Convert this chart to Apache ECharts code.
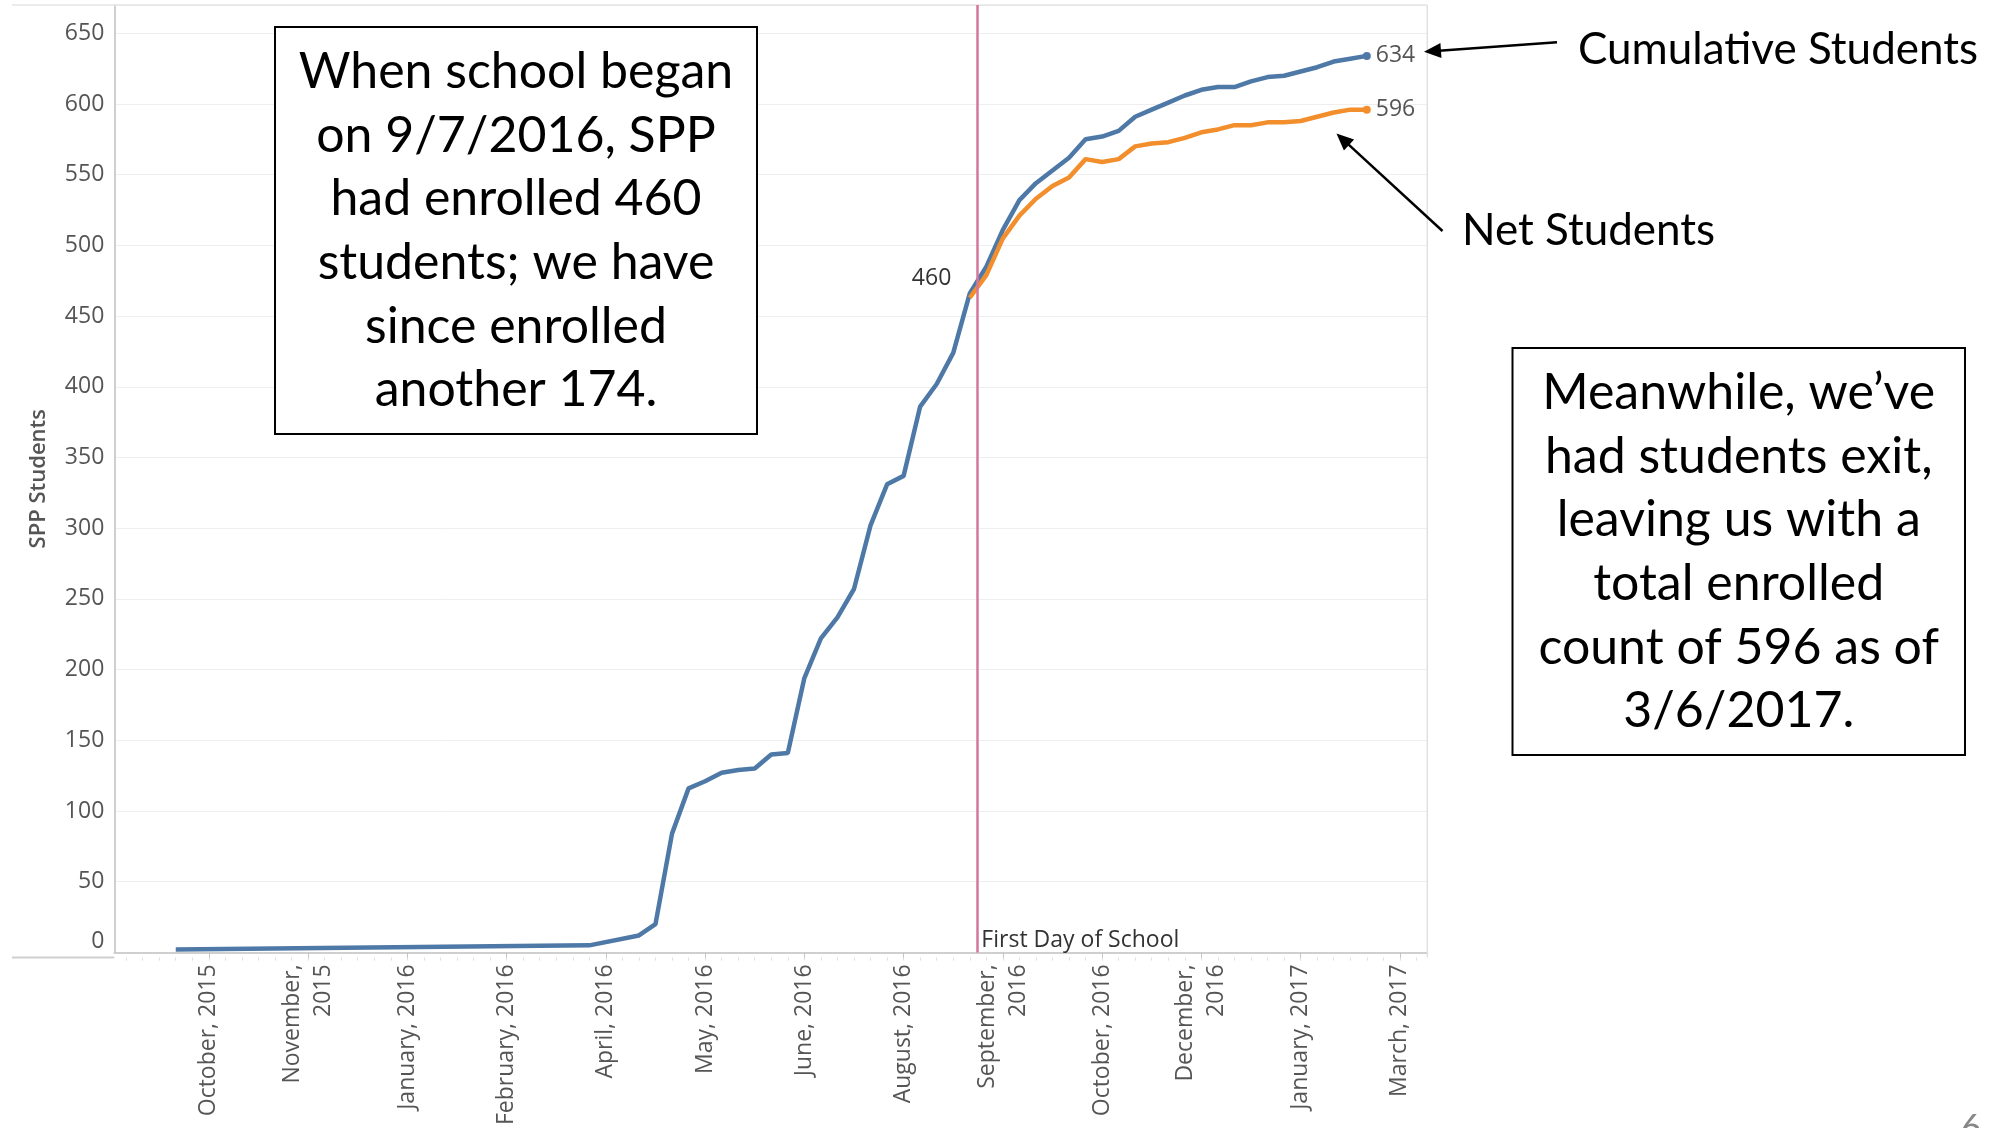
<!DOCTYPE html>
<html>
<head>
<meta charset="utf-8">
<script src="https://cdn.jsdelivr.net/npm/echarts@6/dist/echarts.min.js"></script>
<style>
html,body{margin:0;padding:0;background:#ffffff;}
#chart{width:2014px;height:1128px;}
</style>
</head>
<body>
<div id="chart"></div>
<script>
// ---------------- data ----------------
const tickOrigin = '2015-10-18';   // first labelled tick (ticks every 6 weeks)
const tickStepDays = 42;
const tickLabels = ['October, 2015', 'November,\n2015', 'January, 2016', 'February, 2016',
  'April, 2016', 'May, 2016', 'June, 2016', 'August, 2016', 'September,\n2016',
  'October, 2016', 'December,\n2016', 'January, 2017', 'March, 2017'];

const cumDates = ['2015-10-04','2016-03-27','2016-04-17','2016-04-24','2016-05-01','2016-05-08',
  '2016-05-15','2016-05-22','2016-05-29','2016-06-05','2016-06-12','2016-06-19','2016-06-26',
  '2016-07-03','2016-07-10','2016-07-17','2016-07-24','2016-07-31','2016-08-07','2016-08-14',
  '2016-08-21','2016-08-28','2016-09-04','2016-09-11','2016-09-18','2016-09-25','2016-10-02',
  '2016-10-09','2016-10-16','2016-10-23','2016-10-30','2016-11-06','2016-11-13','2016-11-20',
  '2016-11-27','2016-12-04','2016-12-11','2016-12-18','2016-12-25','2017-01-01','2017-01-08',
  '2017-01-15','2017-01-22','2017-01-29','2017-02-05','2017-02-12','2017-02-19'];
const cumValues = [2,5,12,20,84,116,121,127,129,130,140,141,194,222,237,257,302,331,337,386,402,424,
  466,485,511,532,544,553,562,575,577,581,591,596,601,606,610,612,612,616,619,620,623,626,630,632,634];

const netDates = ['2016-09-04','2016-09-11','2016-09-18','2016-09-25','2016-10-02','2016-10-09',
  '2016-10-16','2016-10-23','2016-10-30','2016-11-06','2016-11-13','2016-11-20','2016-11-27',
  '2016-12-04','2016-12-11','2016-12-18','2016-12-25','2017-01-01','2017-01-08','2017-01-15',
  '2017-01-22','2017-01-29','2017-02-05','2017-02-12','2017-02-19'];
const netValues = [463,479,505,521,533,542,548,561,559,561,570,572,573,576,580,582,585,585,587,587,
  588,591,594,596,596];

const schoolStartDate = '2016-09-07';
const schoolStartCount = 460;
const schoolStartLabelDate = '2016-09-04';
const firstDayLabel = 'First Day of School';

const boxLeftLines = ['When school began','on 9/7/2016, SPP','had enrolled 460','students; we have','since enrolled','another 174.'];
const boxRightLines = ['Meanwhile, we\u2019ve','had students exit,','leaving us with a','total enrolled','count of 596 as of','3/6/2017.'];
const cumulativeName = 'Cumulative Students';
const netName = 'Net Students';
const yAxisTitle = 'SPP Students';

// ---------------- helpers ----------------
const DAY = 86400000;
function dayOf(s) {
  const a = s.split('-').map(Number), o = tickOrigin.split('-').map(Number);
  return (Date.UTC(a[0], a[1]-1, a[2]) - Date.UTC(o[0], o[1]-1, o[2])) / DAY;
}
const xMin = -40, xMax = 515.6;
const majorTicks = tickLabels.map((_, i) => i * tickStepDays);
const minorTicks = [];
for (let d = -35; d <= 511; d += 7) minorTicks.push(d);

const AXF = 'Open Sans';
const BLUE = '#4e79a7', ORANGE = '#f28e2b', PINK = '#d6759a';

function buildData(dates, values, opts) {
  return dates.map((d, i) => {
    const item = { value: [dayOf(d), values[i]], symbol: 'none' };
    if (i === dates.length - 1) {
      item.symbol = 'circle'; item.symbolSize = 8;
      item.label = { show: true, position: 'right', distance: 5, color: '#555',
        fontFamily: AXF, fontSize: 23, formatter: String(values[i]) };
    }
    if (opts && opts.labelDate === d) {
      item.symbol = 'circle'; item.symbolSize = 1;
      item.label = { show: true, position: 'left', distance: 5, offset: [-13, -15],
        color: '#333', fontFamily: AXF, fontSize: 23, formatter: String(opts.labelText) };
    }
    return item;
  });
}

function arrow(x1, y1, x2, y2) {
  const dx = x2 - x1, dy = y2 - y1, L = Math.hypot(dx, dy);
  const ux = dx / L, uy = dy / L, hl = 17, hw = 7.5;
  const bx = x2 - ux * hl, by = y2 - uy * hl;
  const nx = -uy, ny = ux;
  return [
    { type: 'line', z: 100, shape: { x1: x1, y1: y1, x2: bx + ux * 2, y2: by + uy * 2 },
      style: { stroke: '#000', lineWidth: 2.5 } },
    { type: 'polygon', z: 100, shape: { points: [[x2, y2], [bx + nx * hw, by + ny * hw], [bx - nx * hw, by - ny * hw]] },
      style: { fill: '#000' } }
  ];
}

// ---------------- chart ----------------
const chart = echarts.init(document.getElementById('chart'), null, { renderer: 'canvas' });
const gridTop = 5, gridBottomY = 957.5, gridLeft = 114.3, gridRightX = 1427.3;

const option = {
  animation: false,
  backgroundColor: '#ffffff',
  grid: { left: gridLeft, right: 2014 - gridRightX, top: gridTop, bottom: 1128 - gridBottomY, containLabel: false },
  xAxis: [
    {
      type: 'value', min: xMin, max: xMax,
      axisLine: { show: true, onZero: false, lineStyle: { color: '#cfcfcf', width: 2 } },
      axisTick: { show: true, customValues: majorTicks, length: 6, lineStyle: { color: '#c4c4c4', width: 1 } },
      axisLabel: {
        show: true, customValues: majorTicks, rotate: 90, margin: 12,
        fontFamily: AXF, fontSize: 23, lineHeight: 31, color: '#555',
        formatter: v => tickLabels[Math.round(v / tickStepDays)] || ''
      },
      splitLine: { show: false }
    },
    {
      type: 'value', min: xMin, max: xMax, position: 'top', offset: -(gridBottomY - gridTop),
      axisLine: { show: false, onZero: false },
      axisTick: { show: true, inside: true, customValues: minorTicks, length: 3, lineStyle: { color: '#dddddd', width: 1 } },
      axisLabel: { show: false },
      splitLine: { show: false }
    }
  ],
  yAxis: {
    type: 'value', min: 0, max: 670, interval: 50,
    name: yAxisTitle, nameLocation: 'middle', nameRotate: 90, nameGap: 65,
    nameTextStyle: { fontFamily: AXF, fontSize: 22, fontWeight: 600, color: '#555' },
    axisLine: { show: true, onZero: false, lineStyle: { color: '#cfcfcf', width: 2 } },
    axisTick: { show: false },
    axisLabel: {
      margin: 10, fontFamily: AXF, fontSize: 23, color: '#555', showMaxLabel: false,
      formatter: v => v === 0 ? '{z|0}' : String(v),
      rich: { z: { padding: [0, 0, 22, 0], fontFamily: AXF, fontSize: 23, color: '#555' } }
    },
    splitLine: { show: true, lineStyle: { color: '#eeeeee', width: 1 } }
  },
  series: [
    {
      name: cumulativeName, type: 'line', xAxisIndex: 0,
      data: buildData(cumDates, cumValues, { labelDate: schoolStartLabelDate, labelText: schoolStartCount }),
      showSymbol: true, symbol: 'circle', symbolSize: 8,
      lineStyle: { color: BLUE, width: 4.5 }, itemStyle: { color: BLUE },
      emphasis: { disabled: true }, silent: true, z: 2,
      markLine: {
        silent: true, symbol: ['none', 'none'],
        data: [{ xAxis: dayOf(schoolStartDate) }],
        lineStyle: { color: PINK, width: 2.5, type: 'solid' },
        label: { show: false }, emphasis: { disabled: true }
      },
      markPoint: {
        silent: true, symbol: 'circle', symbolSize: 1,
        itemStyle: { color: 'rgba(0,0,0,0)' },
        data: [{ coord: [dayOf(schoolStartDate), 0] }],
        label: { show: true, position: 'right', distance: 4, offset: [0, -12],
          fontFamily: AXF, fontSize: 23, color: '#333', formatter: firstDayLabel }
      }
    },
    {
      name: netName, type: 'line', xAxisIndex: 0,
      data: buildData(netDates, netValues),
      showSymbol: true, symbol: 'circle', symbolSize: 8,
      lineStyle: { color: ORANGE, width: 4.5 }, itemStyle: { color: ORANGE },
      emphasis: { disabled: true }, silent: true, z: 3
    }
  ],
  graphic: [
    // frame extensions
    { type: 'line', z: 1, shape: { x1: 12, y1: gridTop, x2: gridRightX, y2: gridTop }, style: { stroke: '#e4e4e4', lineWidth: 1.5 } },
    { type: 'line', z: 1, shape: { x1: gridRightX, y1: gridTop, x2: gridRightX, y2: gridBottomY }, style: { stroke: '#e0e0e0', lineWidth: 1.5 } },
    { type: 'line', z: 1, shape: { x1: 12, y1: gridBottomY, x2: gridLeft, y2: gridBottomY }, style: { stroke: '#cfcfcf', lineWidth: 2 } },
    // left text box
    { type: 'rect', z: 100, shape: { x: 275, y: 27, width: 482, height: 407 }, style: { fill: '#ffffff', stroke: '#000', lineWidth: 2 } },
    { type: 'text', z: 101, x: 516, y: 231, style: { text: boxLeftLines.join('\n'), fontFamily: 'Lato', fontSize: 50,
      lineHeight: 63.7, fill: '#000', align: 'center', verticalAlign: 'middle' } },
    // right text box
    { type: 'rect', z: 100, shape: { x: 1512.5, y: 348, width: 452.5, height: 407 }, style: { fill: '#ffffff', stroke: '#000', lineWidth: 2 } },
    { type: 'text', z: 101, x: 1738.7, y: 552, style: { text: boxRightLines.join('\n'), fontFamily: 'Lato', fontSize: 50,
      lineHeight: 63.7, fill: '#000', align: 'center', verticalAlign: 'middle' } },
    // series captions
    { type: 'text', z: 101, x: 1578, y: 49.5, style: { text: cumulativeName, fontFamily: 'Lato', fontSize: 44, fill: '#000', align: 'left', verticalAlign: 'middle' } },
    { type: 'text', z: 101, x: 1462, y: 231, style: { text: netName, fontFamily: 'Lato', fontSize: 44, fill: '#000', align: 'left', verticalAlign: 'middle' } },
    ...arrow(1557, 42.3, 1424, 51.7),
    ...arrow(1442.5, 231, 1336.5, 133.5),
    // slide number (cut off at the bottom)
    { type: 'text', z: 101, x: 1971, y: 1110, style: { text: '6', fontFamily: 'Lato', fontSize: 36, fill: '#888', align: 'center', verticalAlign: 'top' } }
  ]
};
chart.setOption(option);
</script>
</body>
</html>
